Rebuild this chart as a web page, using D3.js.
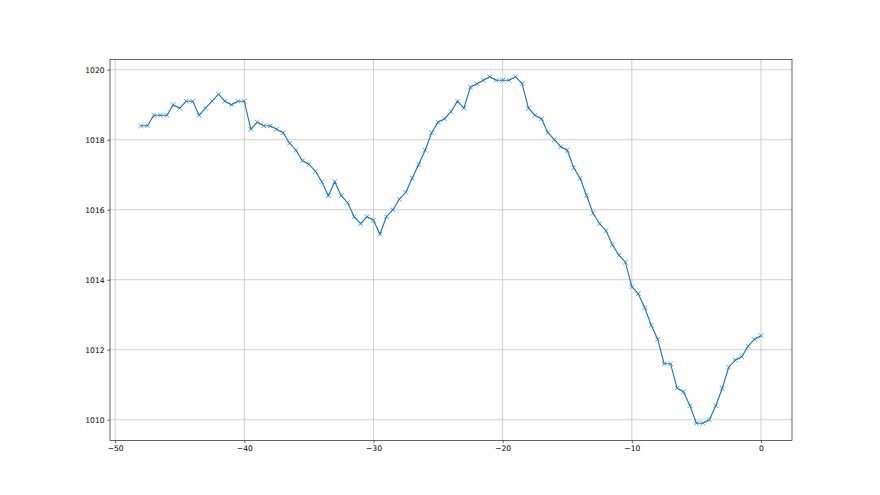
<!DOCTYPE html>
<html><head><meta charset="utf-8">
<script src="https://cdn.jsdelivr.net/npm/d3@7"></script>
<style>body{margin:0;background:#fff}svg{display:block}</style>
</head><body>
<svg id="c" width="880" height="495"></svg>
<script>
const xValues = d3.range(-48, 0.001, 0.5);
const pressure = [
1018.4,1018.4,1018.7,1018.7,1018.7,1019.0,1018.9,1019.1,1019.1,1018.7,
1018.9,1019.1,1019.3,1019.1,1019.0,1019.1,1019.1,1018.3,1018.5,1018.4,
1018.4,1018.3,1018.2,1017.9,1017.7,1017.4,1017.3,1017.1,1016.8,1016.4,
1016.8,1016.4,1016.2,1015.8,1015.6,1015.8,1015.7,1015.3,1015.8,1016.0,
1016.3,1016.5,1016.9,1017.3,1017.7,1018.2,1018.5,1018.6,1018.8,1019.1,
1018.9,1019.5,1019.6,1019.7,1019.8,1019.7,1019.7,1019.7,1019.8,1019.6,
1018.9,1018.7,1018.6,1018.2,1018.0,1017.8,1017.7,1017.2,1016.9,1016.4,
1015.9,1015.6,1015.4,1015.0,1014.7,1014.5,1013.8,1013.6,1013.2,1012.7,
1012.3,1011.6,1011.6,1010.9,1010.8,1010.4,1009.9,1009.9,1010.0,1010.4,
1010.9,1011.5,1011.7,1011.8,1012.1,1012.3,1012.4];
const xTicks = [-50,-40,-30,-20,-10,0];
const yTicks = [1010,1012,1014,1016,1018,1020];

const data = xValues.map((x,i)=>({x, y: pressure[i]}));
const svg = d3.select("#c");
const L=110, R=792, T=59.4, B=440.55;
const xmin=d3.min(xValues), xmax=d3.max(xValues);
const ymin=d3.min(pressure), ymax=d3.max(pressure);
const xm=(xmax-xmin)*0.05, ym=(ymax-ymin)*0.05;
const x=d3.scaleLinear().domain([xmin-xm,xmax+xm]).range([L,R]);
const y=d3.scaleLinear().domain([ymin-ym,ymax+ym]).range([B,T]);

const font="DejaVu Sans, sans-serif";
const g=svg.append("g");
g.selectAll(".gx").data(xTicks).join("line")
  .attr("x1",d=>x(d)).attr("x2",d=>x(d)).attr("y1",T).attr("y2",B)
  .attr("stroke","#c4c4c4").attr("stroke-width",0.8);
g.selectAll(".gy").data(yTicks).join("line")
  .attr("y1",d=>y(d)).attr("y2",d=>y(d)).attr("x1",L).attr("x2",R)
  .attr("stroke","#c4c4c4").attr("stroke-width",0.8);

svg.append("path").datum(data)
  .attr("d",d3.line().x(d=>x(d.x)).y(d=>y(d.y)))
  .attr("fill","none").attr("stroke","#1f77b4").attr("stroke-width",1.15);
const ms=2.3;
svg.append("g").selectAll("path").data(data).join("path")
  .attr("d",d=>`M${x(d.x)-ms},${y(d.y)-ms}L${x(d.x)+ms},${y(d.y)+ms}M${x(d.x)-ms},${y(d.y)+ms}L${x(d.x)+ms},${y(d.y)-ms}`)
  .attr("stroke","#1f77b4").attr("stroke-width",0.7).attr("fill","none");

const xa=svg.append("g").attr("transform",`translate(0,${B})`)
  .call(d3.axisBottom(x).tickValues(xTicks).tickSize(2.7).tickPadding(2.7).tickFormat(d=>d<0?"\u2212"+Math.abs(d):String(d)));
const ya=svg.append("g").attr("transform",`translate(${L},0)`)
  .call(d3.axisLeft(y).tickValues(yTicks).tickSize(2.7).tickPadding(2.7).tickFormat(d3.format("d")));
[xa,ya].forEach(a=>{
  a.select(".domain").remove();
  a.selectAll("line").attr("stroke","#000").attr("stroke-width",0.6);
  a.selectAll("text").attr("font-family",font).attr("font-size",7.6).attr("fill","#000");
});
svg.append("rect").attr("x",L).attr("y",T).attr("width",R-L).attr("height",B-T)
  .attr("fill","none").attr("stroke","#000").attr("stroke-width",0.6);
</script>
</body></html>
